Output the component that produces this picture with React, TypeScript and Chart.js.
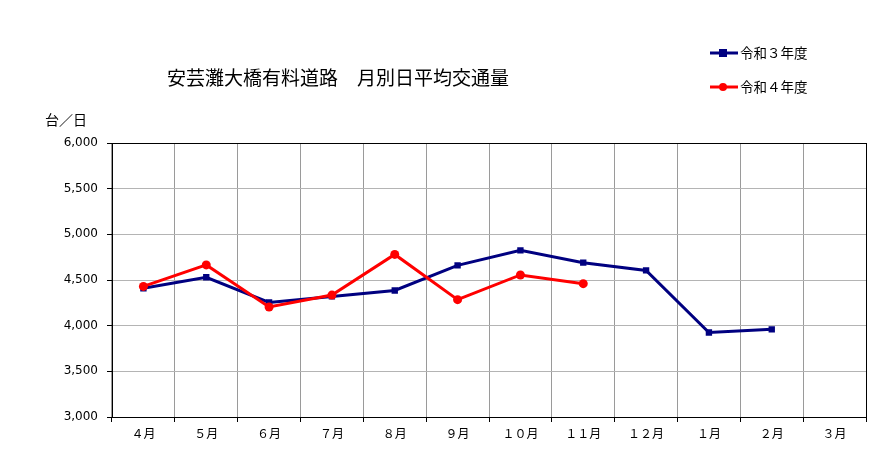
import { useRef, useEffect } from 'react';
import { Chart, registerables } from 'chart.js';
import type { Chart as ChartType, Plugin } from 'chart.js';

Chart.register(...registerables);

const months = ['４月', '５月', '６月', '７月', '８月', '９月', '１０月', '１１月', '１２月', '１月', '２月', '３月'];
const r3Values = [4410, 4530, 4255, 4320, 4385, 4660, 4825, 4690, 4605, 3925, 3960, null];
const r4Values = [4430, 4665, 4205, 4335, 4780, 4285, 4555, 4460, null, null, null, null];
const yTicks = { min: 3000, max: 6000, step: 500 };

const TITLE = '安芸灘大橋有料道路　月別日平均交通量';
const UNIT = '台／日';
const JP_FONT = '"Noto Sans CJK JP", "Noto Sans", sans-serif';

const decorPlugin: Plugin<'line'> = {
  id: 'decor',
  beforeDatasetsDraw(chart) {
    const { ctx, chartArea } = chart;
    ctx.save();
    ctx.strokeStyle = '#000';
    ctx.lineWidth = 1;
    ctx.strokeRect(chartArea.left + 0.5, chartArea.top + 0.5, chartArea.right - chartArea.left, chartArea.bottom - chartArea.top);
    ctx.restore();
  },
  afterDraw(chart) {
    const { ctx } = chart;
    ctx.save();
    ctx.fillStyle = '#000';
    ctx.textBaseline = 'middle';

    // title
    ctx.font = `19px ${JP_FONT}`;
    ctx.textAlign = 'center';
    ctx.fillText(TITLE, 338, 78);

    // unit label
    ctx.font = `14px ${JP_FONT}`;
    ctx.textAlign = 'left';
    ctx.fillText(UNIT, 45, 120);

    // legend
    const rows = [53, 87];
    chart.data.datasets.forEach((ds: any, i) => {
      const y = rows[i];
      ctx.strokeStyle = ds.borderColor;
      ctx.fillStyle = ds.borderColor;
      ctx.lineWidth = 3;
      ctx.beginPath();
      ctx.moveTo(710, y);
      ctx.lineTo(738, y);
      ctx.stroke();
      if (ds.pointStyle === 'rect') {
        ctx.fillRect(719, y - 4, 8, 8);
      } else {
        ctx.beginPath();
        ctx.arc(723, y, 4, 0, Math.PI * 2);
        ctx.fill();
      }
      ctx.fillStyle = '#000';
      ctx.font = `13.5px ${JP_FONT}`;
      ctx.fillText(ds.label, 740, y);
    });
    ctx.restore();
  },
};

const TrafficChart = () => {
  const canvasRef = useRef<HTMLCanvasElement | null>(null);
  const chartInstance = useRef<ChartType | null>(null);

  useEffect(() => {
    const canvas = canvasRef.current;
    if (!canvas) return;
    const existing = Chart.getChart(canvas);
    if (existing) existing.destroy();

    chartInstance.current = new Chart(canvas, {
      type: 'line',
      data: {
        labels: months,
        datasets: [
          {
            label: '令和３年度',
            data: r3Values,
            borderColor: '#000080',
            backgroundColor: '#000080',
            borderWidth: 3,
            pointStyle: 'rect',
            pointRadius: 4.5,
            pointBorderWidth: 0,
            tension: 0,
            order: 1,
          },
          {
            label: '令和４年度',
            data: r4Values,
            borderColor: '#ff0000',
            backgroundColor: '#ff0000',
            borderWidth: 3,
            pointStyle: 'circle',
            pointRadius: 4.5,
            pointBorderWidth: 0,
            tension: 0,
            order: 0,
          },
        ],
      },
      options: {
        animation: false,
        responsive: true,
        maintainAspectRatio: false,
        layout: { padding: { left: 0, top: 143, right: 6, bottom: 0 } },
        plugins: {
          legend: { display: false },
          title: { display: false },
          tooltip: { enabled: false },
        },
        scales: {
          x: {
            offset: true,
            afterFit: (scale) => { scale.height = 36; },
            grid: {
              offset: true,
              color: '#9a9a9a',
              borderDash: [2, 2],
              tickColor: '#000',
              tickBorderDash: [],
              tickLength: 5,
            },
            border: { color: '#000', width: 1 },
            ticks: {
              color: '#000',
              padding: 4,
              maxRotation: 0,
              font: { family: JP_FONT, size: 12 },
            },
          },
          y: {
            min: yTicks.min,
            max: yTicks.max,
            afterFit: (scale) => { scale.width = 112; },
            grid: {
              color: '#b4b4b4',
              tickColor: '#000',
              tickLength: 5,
            },
            border: { color: '#000', width: 1 },
            ticks: {
              stepSize: yTicks.step,
              color: '#000',
              padding: 9,
              font: { family: '"DejaVu Sans", sans-serif', size: 12 },
              callback: (value) => (value as number).toLocaleString('en-US'),
            },
          },
        },
      },
      plugins: [decorPlugin],
    });

    return () => {
      chartInstance.current?.destroy();
      chartInstance.current = null;
    };
  }, []);

  return (
    <div style={{ position: 'absolute', left: 0, top: 0, width: 872, height: 453, background: '#fff' }}>
      <canvas ref={canvasRef} />
    </div>
  );
};

export default function App() {
  return <TrafficChart />;
}
